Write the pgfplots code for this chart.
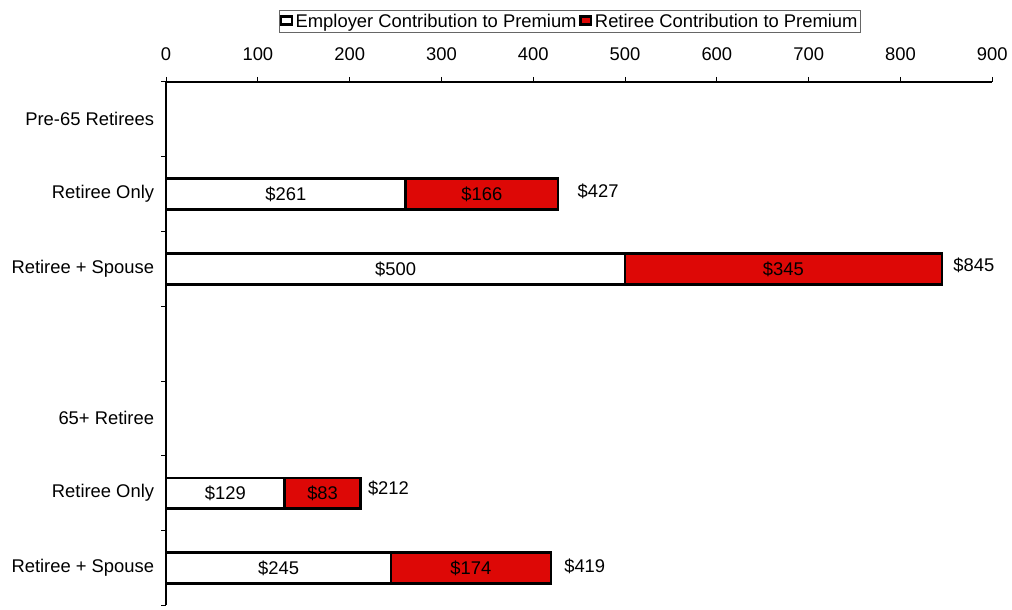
\documentclass[border=0pt]{standalone}
\usepackage{fontspec}
\setmainfont{Liberation Sans}
\usepackage{pgfplots}
\usepackage{pgfplotstable}
\pgfplotsset{compat=1.18}
\definecolor{barred}{RGB}{221,8,6}
\newcommand{\lblfont}{\fontsize{13.8}{16}\selectfont}

\pgfplotstableread{
y emp ret tot
1 261 166 427
2 500 345 845
5 129 83 212
6 245 174 419
}\datatable

\begin{document}
\begin{tikzpicture}
\path (0pt,0pt) rectangle (759pt,454.5pt);
\begin{axis}[
  at={(124.7pt,0pt)}, anchor=south west,
  scale only axis, width=620.25pt, height=393pt,
  xbar stacked, bar width=23.25pt,
  xmin=0, xmax=900, xtick={0,100,...,900},
  ymin=-0.5, ymax=6.5, y dir=reverse,
  axis x line*=top, axis y line*=left,
  axis line style={black, line width=1pt},
  ytick={-0.5,0.5,1.5,2.5,3.5,4.5,5.5,6.5}, yticklabels={},
  extra y ticks={0,1,2,3,4,5,6},
  extra y tick labels={Pre-65 Retirees,Retiree Only,Retiree + Spouse,{},65+ Retiree,Retiree Only,Retiree + Spouse},
  extra y tick style={major tick length=0pt, tick label style={xshift=-5.5pt}},
  tick align=outside, major tick length=3.75pt,
  tick style={black, line width=0.8pt},
  xticklabel style={yshift=9pt},
  tick label style={font=\lblfont},
  /pgf/number format/assume math mode=true,
  legend columns=2,
  legend style={at={(0.489,1)}, anchor=south, yshift=36.5pt,
    draw=black!60, line width=0.8pt, inner sep=0.5pt,
    font=\lblfont},
  clip=false,
]
\addplot[fill=white, draw=black, line width=1.8pt]
  table[x=emp, y=y] {\datatable};
\addplot[fill=barred, draw=black, line width=1.8pt]
  table[x=ret, y=y] {\datatable};
\legend{Employer Contribution to Premium,Retiree Contribution to Premium}
\coordinate (e1) at (axis cs:130.5,1);
\coordinate (r1) at (axis cs:344,1);
\coordinate (e2) at (axis cs:250,2);
\coordinate (r2) at (axis cs:672.5,2);
\coordinate (e5) at (axis cs:64.5,5);
\coordinate (r5) at (axis cs:170.5,5);
\coordinate (e6) at (axis cs:122.5,6);
\coordinate (r6) at (axis cs:332,6);
\coordinate (t1) at (axis cs:427,1);
\coordinate (t2) at (axis cs:845,2);
\coordinate (t5) at (axis cs:212,5);
\coordinate (t6) at (axis cs:419,6);
\end{axis}
\node[font=\lblfont] at (e1) {\$261};
\node[font=\lblfont] at (r1) {\$166};
\node[font=\lblfont] at (e2) {\$500};
\node[font=\lblfont] at (r2) {\$345};
\node[font=\lblfont] at (e5) {\$129};
\node[font=\lblfont] at (r5) {\$83};
\node[font=\lblfont] at (e6) {\$245};
\node[font=\lblfont] at (r6) {\$174};
\node[anchor=west, inner sep=0pt, font=\lblfont, xshift=14.5pt, yshift=1.7pt] at (t1) {\$427};
\node[anchor=west, inner sep=0pt, font=\lblfont, xshift=8.5pt, yshift=3pt] at (t2) {\$845};
\node[anchor=west, inner sep=0pt, font=\lblfont, xshift=5.3pt, yshift=4pt] at (t5) {\$212};
\node[anchor=west, inner sep=0pt, font=\lblfont, xshift=10pt, yshift=1pt] at (t6) {\$419};
\end{tikzpicture}
\end{document}
